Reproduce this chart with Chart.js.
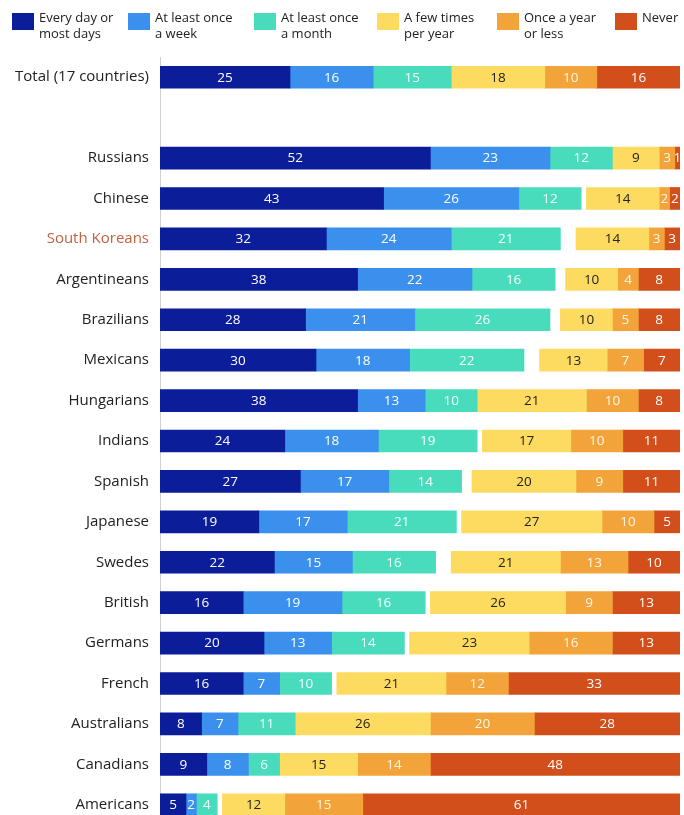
<!DOCTYPE html>
<html>
<head>
<meta charset="utf-8">
<script src="https://cdn.jsdelivr.net/npm/chart.js@4"></script>
<style>
  html, body { margin: 0; padding: 0; background: #fff; overflow: hidden; }
  #wrap { position: relative; width: 684px; height: 845px; }
  #c { display: block; width: 684px; height: 845px; }
  #legend { position: absolute; left: 0; top: 0; width: 684px; height: 50px; font-family: "Open Sans", sans-serif; font-size: 13px; color: #222; line-height: 16px; }
  .item { position: absolute; top: 9px; }
  .box { position: absolute; top: 4px; width: 22px; height: 17px; }
  .txt { position: absolute; left: 27px; top: 0; white-space: nowrap; }
</style>
</head>
<body>
<div id="wrap">
  <canvas id="c" width="684" height="845"></canvas>
  <div id="legend"></div>
</div>
<script>
const categories = ["Total (17 countries)", "", "Russians", "Chinese", "South Koreans", "Argentineans", "Brazilians", "Mexicans", "Hungarians", "Indians", "Spanish", "Japanese", "Swedes", "British", "Germans", "French", "Australians", "Canadians", "Americans"];
const seriesNames = [["Every day or", "most days"], ["At least once", "a week"], ["At least once", "a month"], ["A few times", "per year"], ["Once a year", "or less"], ["Never"]];
const everyDay     = [25, null, 52, 43, 32, 38, 28, 30, 38, 24, 27, 19, 22, 16, 20, 16, 8, 9, 5];
const weekly       = [16, null, 23, 26, 24, 22, 21, 18, 13, 18, 17, 17, 15, 19, 13, 7, 7, 8, 2];
const monthly      = [15, null, 12, 12, 21, 16, 26, 22, 10, 19, 14, 21, 16, 16, 14, 10, 11, 6, 4];
const fewPerYear   = [18, null, 9, 14, 14, 10, 10, 13, 21, 17, 20, 27, 21, 26, 23, 21, 26, 15, 12];
const yearOrLess   = [10, null, 3, 2, 3, 4, 5, 7, 10, 10, 9, 10, 13, 9, 16, 12, 20, 14, 15];
const never        = [16, null, 1, 2, 3, 8, 8, 7, 8, 11, 11, 5, 10, 13, 13, 33, 28, 48, 61];

const colors = ["#0b1d98", "#3a90ec", "#48dcbd", "#fddb60", "#f2a43a", "#d24f1b"];
const textColors = ["#ffffff", "#ffffff", "#f4fffc", "#222222", "#fff6e8", "#ffffff"];

// remainder (no answer) shown as empty space between the two groups
const noAnswer = categories.map((c, i) => everyDay[i] == null ? null :
  100 - (everyDay[i] + weekly[i] + monthly[i] + fewPerYear[i] + yearOrLess[i] + never[i]));

// legend
const legendX = [12, 128, 254, 377, 497, 615];
const lg = document.getElementById('legend');
seriesNames.forEach((n, i) => {
  const it = document.createElement('div');
  it.className = 'item';
  it.style.left = legendX[i] + 'px';
  it.innerHTML = '<div class="box" style="background:' + colors[i] + '"></div><div class="txt">' + n.join('<br>') + '</div>';
  lg.appendChild(it);
});

const seriesData = [everyDay, weekly, monthly, fewPerYear, yearOrLess, never];
const datasets = [];
seriesData.forEach((d, i) => {
  if (i === 3) {
    datasets.push({ label: 'gap', data: noAnswer, backgroundColor: 'rgba(0,0,0,0)', isGap: true });
  }
  datasets.push({ label: seriesNames[i].join(' '), data: d, backgroundColor: colors[i], textColor: textColors[i] });
});

const valueLabels = {
  id: 'valueLabels',
  afterDatasetsDraw(chart) {
    const ctx = chart.ctx;
    ctx.save();
    ctx.font = '13.5px "Open Sans", sans-serif';
    ctx.textAlign = 'center';
    ctx.textBaseline = 'middle';
    chart.data.datasets.forEach((ds, di) => {
      if (ds.isGap) return;
      const meta = chart.getDatasetMeta(di);
      meta.data.forEach((bar, j) => {
        const v = ds.data[j];
        if (v == null) return;
        const p = bar.getProps(['x', 'y', 'base'], true);
        ctx.fillStyle = ds.textColor;
        ctx.fillText(String(v), (p.x + p.base) / 2, p.y + 0.5);
      });
    });
    ctx.restore();
  }
};

new Chart(document.getElementById('c'), {
  type: 'bar',
  data: { labels: categories, datasets },
  options: {
    indexAxis: 'y',
    responsive: false,
    animation: false,
    devicePixelRatio: 1,
    layout: { padding: { top: 57, right: 4, bottom: 0, left: 0 } },
    datasets: { bar: { barThickness: 22, borderWidth: 0 } },
    plugins: { legend: { display: false }, tooltip: { enabled: false } },
    scales: {
      x: { stacked: true, min: 0, max: 100, display: false },
      y: {
        stacked: true,
        grid: { display: false, drawTicks: false },
        border: { display: true, color: '#d0d0d0', width: 1 },
        ticks: {
          padding: 11,
          color: (ctx) => ctx.tick && ctx.tick.label === 'South Koreans' ? '#c2623e' : '#222222',
          font: { family: '"Open Sans", sans-serif', size: 15 }
        },
        afterFit(scale) { scale.width = 160; }
      }
    }
  },
  plugins: [valueLabels]
});
</script>
</body>
</html>
